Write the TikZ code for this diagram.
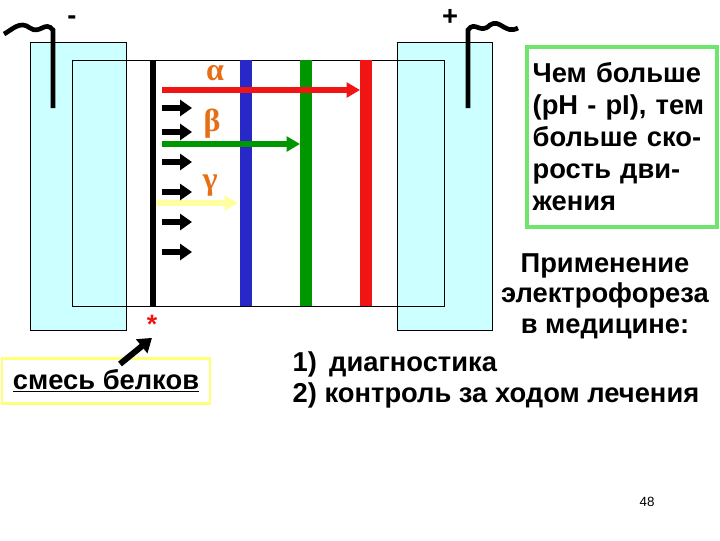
\documentclass[tikz,border=0pt]{standalone}
\usepackage{fontspec}
\setmainfont{Liberation Sans}
\newfontfamily\grk{Liberation Serif}
\usetikzlibrary{arrows.meta}
\definecolor{tank}{RGB}{204,255,255}
\definecolor{gr}{RGB}{0,150,0}
\definecolor{bl}{RGB}{40,40,200}
\definecolor{rd}{RGB}{240,20,20}
\definecolor{org}{RGB}{230,110,20}
\definecolor{yel}{RGB}{255,255,160}
\definecolor{ybox}{RGB}{255,255,120}
\definecolor{gbox}{RGB}{110,230,110}
\begin{document}
\begin{tikzpicture}[x=0.75pt,y=-0.75pt,
  txt/.style={font=\bfseries\fontsize{20.5}{24}\selectfont},
  greek/.style={text=org,font=\grk\bfseries\fontsize{24}{24}\selectfont},
  band/.style={line width=9pt},
  small/.style={-{Triangle[length=9pt,width=12pt]},line width=4.5pt},
  wire/.style={line width=3.5pt}]
\useasboundingbox (0,0) rectangle (720,540);
\fill[tank] (30,42) rectangle (126,330);
\fill[tank] (397,42) rectangle (492,330);
\draw[thin] (30,42) rectangle (126,330);
\draw[thin] (397,42) rectangle (492,330);
\draw[thin] (72,60) rectangle (444,306);
\draw[line width=5pt] (153,60) -- (153,306);
\draw[band,bl] (246,60) -- (246,306);
\draw[band,gr] (306,60) -- (306,306);
\draw[band,rd] (366,60) -- (366,306);
\draw[rd,line width=4pt,-{Triangle[length=10pt,width=11pt]}] (162,90) -- (360,90);
\draw[gr,line width=4pt,-{Triangle[length=10pt,width=11pt]}] (162,144) -- (300,144);
\draw[yel,line width=4pt,-{Triangle[length=10pt,width=11pt]}] (156,203) -- (238,203);
\foreach \y in {108,132,162,192,222,252} \draw[small] (162,\y) -- (192,\y);
\node[greek] (al) at (215,73) {α};
\node[greek] (be) at (212,124) {β};
\node[greek] (ga) at (210,186) {γ};
\draw[wire] (53,108) -- (53,30) .. controls (45,20) and (40,35) .. (30,28) .. controls (20,20) and (12,30) .. (4,34);
\draw[wire] (468,108) -- (468,30) .. controls (475,20) and (480,35) .. (490,25) .. controls (500,18) and (505,35) .. (518,28);
\node[txt] (mn) at (72,20) {-};
\node[txt] (pl) at (450,17) {+};
\node[text=rd,font=\bfseries\fontsize{20}{20}\selectfont] (st) at (152,324) {*};
\node[draw=ybox,line width=2pt,minimum width=156pt,minimum height=34pt,inner sep=2pt,txt] (mix) at (106,381) {\underline{смесь белков}};
\draw[line width=4.5pt,-{Triangle[length=10pt,width=13pt]}] (120,364) -- (st.south);
\node[draw=gbox,line width=3pt,minimum width=142pt,minimum height=135pt,align=left,txt,text width=134pt,inner sep=3pt] (info) at (622,137) {Чем больше\\(pH - pI), тем\\больше ско-\\рость дви-\\жения};
\node[txt,align=center] (app) at (605,296) {Применение\\[-1pt]электрофореза\\[-1pt]в медицине:};
\node[txt,anchor=west,align=left] (list) at (288,380) {1)\, диагностика\\[-1pt]2) контроль за ходом лечения};
\node[font=\fontsize{10}{12}\selectfont] (pg) at (647,502) {48};
\end{tikzpicture}
\end{document}
